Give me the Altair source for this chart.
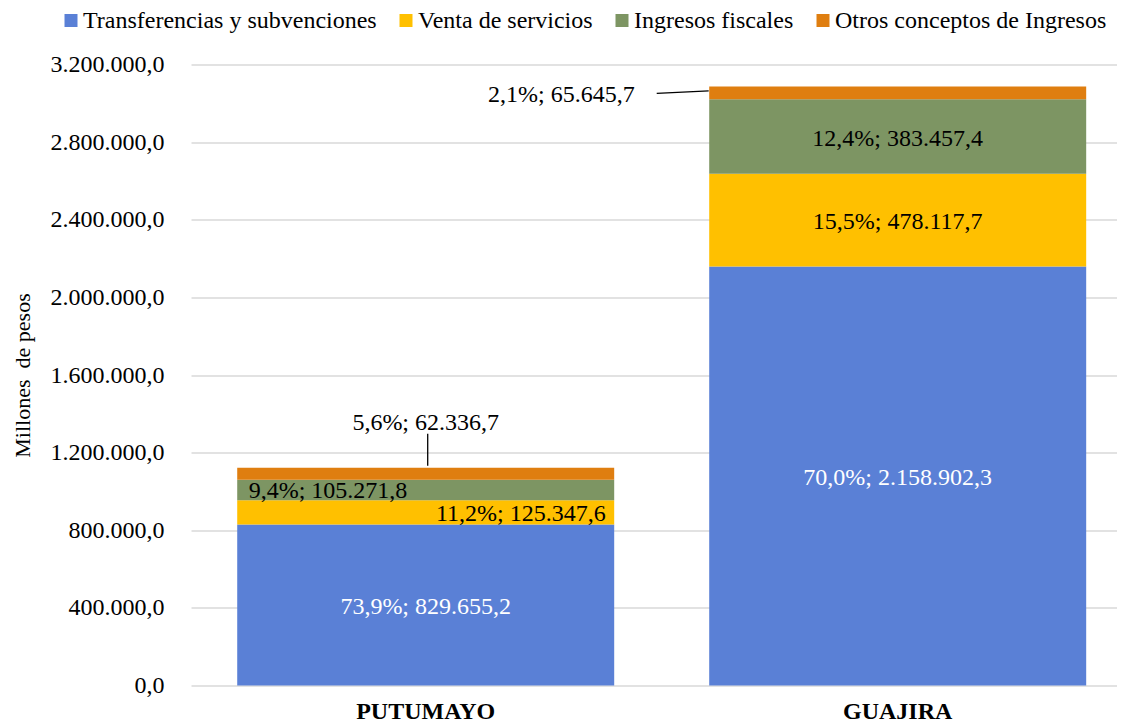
import altair as alt
import pandas as pd

categories = ["PUTUMAYO", "GUAJIRA"]
series = ["Transferencias y subvenciones", "Venta de servicios",
          "Ingresos fiscales", "Otros conceptos de Ingresos"]
colors = ["#5A80D6", "#FFC000", "#7D9563", "#DF7E10"]
putumayo_values = [829655.2, 125347.6, 105271.8, 62336.7]
guajira_values = [2158902.3, 478117.7, 383457.4, 65645.7]
putumayo_pct = [73.9, 11.2, 9.4, 5.6]
guajira_pct = [70.0, 15.5, 12.4, 2.1]
y_ticks = [0, 400000, 800000, 1200000, 1600000, 2000000, 2400000, 2800000, 3200000]

FONT = "Liberation Serif"


def es(v, d=1):
    s = f"{v:,.{d}f}"
    return s.replace(",", "#").replace(".", ",").replace("#", ".")


rows = []
for cat, vals, pcts in [("PUTUMAYO", putumayo_values, putumayo_pct),
                        ("GUAJIRA", guajira_values, guajira_pct)]:
    cum = 0.0
    total = sum(vals)
    for i, (s, v, p) in enumerate(zip(series, vals, pcts)):
        rows.append({
            "category": cat, "series": s, "value": v, "order": i,
            "mid": cum + v / 2, "top": cum + v, "total": total,
            "label": f"{es(p)}%; {es(v)}", "key": f"{cat}|{i}",
        })
        cum += v
df = pd.DataFrame(rows)

xscale = alt.Scale(domain=categories, paddingInner=0.2013, paddingOuter=0.0816, align=0.6)
x_enc = alt.X("category:N", sort=categories, scale=xscale,
              axis=alt.Axis(title=None, domain=False, ticks=False, grid=False,
                            labelFont=FONT, labelFontSize=24, labelFontWeight="bold",
                            labelColor="#000000", labelBaseline="alphabetic",
                            labelPadding=33, labelAngle=0))
yscale = alt.Scale(domain=[0, 3200000], nice=False, zero=True)

bars = alt.Chart(df).mark_bar().encode(
    x=x_enc,
    y=alt.Y("value:Q", stack="zero", scale=yscale,
            axis=alt.Axis(values=y_ticks, format=",.1f", title="Millones \u00a0de pesos",
                          domain=False, ticks=False, grid=True, gridColor="#D9D9D9",
                          gridWidth=1.3, labelFont=FONT, labelFontSize=24,
                          labelColor="#000000", labelPadding=27,
                          titleFont=FONT, titleFontSize=22, titleFontWeight="normal",
                          titleColor="#000000", titleX=-162, titleBaseline="alphabetic")),
    color=alt.Color("series:N", sort=series,
                    scale=alt.Scale(domain=series, range=colors),
                    legend=alt.Legend(title=None, orient="none", direction="horizontal",
                                      legendX=-132, legendY=-56,
                                      labelFont=FONT, labelFontSize=24, labelColor="#000000",
                                      labelLimit=500,
                                      symbolType="square", symbolSize=169,
                                      symbolStrokeWidth=0, labelOffset=0,
                                      columnPadding=17, padding=0)),
    order=alt.Order("order:Q"),
)


def text_layer(keys, yfield, color, align="center", dx=0, dy=0):
    sub = df[df["key"].isin(keys)]
    return alt.Chart(sub).mark_text(
        font=FONT, fontSize=24, color=color, align=align, baseline="middle", dx=dx, dy=dy
    ).encode(
        x=alt.X("category:N", sort=categories, scale=xscale),
        y=alt.Y(f"{yfield}:Q", stack=False, scale=yscale),
        text="label:N",
    )


labels = [
    text_layer(["PUTUMAYO|0", "GUAJIRA|0"], "mid", "#FFFFFF", dy=2),
    text_layer(["GUAJIRA|1", "GUAJIRA|2"], "mid", "#000000", dy=2),
    text_layer(["PUTUMAYO|1"], "mid", "#000000", align="right", dx=180, dy=2),
    text_layer(["PUTUMAYO|2"], "mid", "#000000", align="left", dx=-177, dy=1),
    text_layer(["PUTUMAYO|3"], "top", "#000000", dy=-45),
    text_layer(["GUAJIRA|3"], "mid", "#000000", align="right", dx=-263, dy=2),
]

p_other = df[df["key"] == "PUTUMAYO|3"]
g_other = df[df["key"] == "GUAJIRA|3"]

rule_p = alt.Chart(p_other).mark_rule(
    color="#000000", strokeWidth=1.3, xOffset=2, x2Offset=2, yOffset=-2, y2Offset=-34
).encode(
    x=alt.X("category:N", sort=categories, scale=xscale),
    y=alt.Y("top:Q", scale=yscale),
    y2="top:Q",
)

rule_g = alt.Chart(g_other).mark_rule(
    color="#000000", strokeWidth=1.3, xOffset=-189, x2Offset=-241, yOffset=-2, y2Offset=0.5
).encode(
    x=alt.X("category:N", sort=categories, scale=xscale),
    x2="category:N",
    y=alt.Y("mid:Q", scale=yscale),
    y2="mid:Q",
)

chart = alt.layer(bars, *labels, rule_p, rule_g).properties(
    width=926, height=621,
    autosize=alt.AutoSizeParams(type="none"),
    padding={"left": 183, "top": 56.5, "right": 0, "bottom": 39},
).configure(font=FONT).configure_view(strokeWidth=0)

chart.save("out.html", embed_options={
    "renderer": "svg", "actions": False,
    "formatLocale": {"decimal": ",", "thousands": ".", "grouping": [3], "currency": ["$", ""]},
})
